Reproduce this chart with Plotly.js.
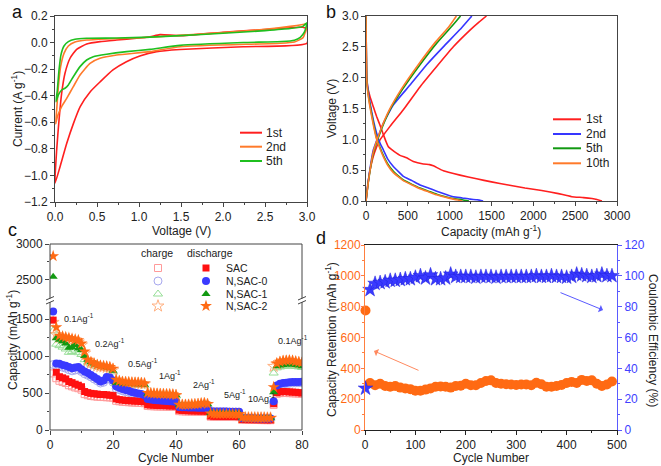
<!DOCTYPE html>
<html><head><meta charset="utf-8">
<script src="https://cdn.plot.ly/plotly-3.0.1.min.js"></script>
<style>html,body{margin:0;padding:0;background:#fff}#chart{width:661px;height:466px}</style>
</head><body><div id="chart"></div>
<script>
// ---------- Panel a: CV curves (voltage V, current A g-1) ----------
const cv1V = [3.0, 2.24, 1.49, 1.21, 1.01, 0.85, 0.69, 0.54, 0.42, 0.30, 0.22, 0.14, 0.06, 0.0,
  0.02, 0.048, 0.079, 0.119, 0.179, 0.258, 0.377, 0.536, 0.734, 0.972, 1.131, 1.25, 1.49, 2.0, 2.5, 2.8, 2.95, 3.0, 3.0];
const cv1I = [-0.005, -0.031, -0.052, -0.068, -0.101, -0.144, -0.206, -0.294, -0.370, -0.482, -0.608, -0.758, -0.934, -1.059,
  -0.808, -0.583, -0.382, -0.231, -0.118, -0.051, -0.011, 0.007, 0.019, 0.032, 0.044, 0.06, 0.052, 0.078, 0.098, 0.112, 0.115, 0.10, -0.005];
const cv2V = [3.0, 2.98, 2.95, 2.85, 2.68, 1.49, 1.131, 0.734, 0.536, 0.417, 0.298, 0.218, 0.139, 0.079, 0.028, 0.008,
  0.02, 0.04, 0.067, 0.107, 0.159, 0.238, 0.377, 0.615, 0.972, 1.49, 2.0, 2.5, 2.8, 2.95, 3.0];
const cv2I = [0.142, 0.08, 0.035, 0.005, -0.005, -0.031, -0.068, -0.093, -0.118, -0.156, -0.244, -0.332, -0.42, -0.482, -0.558, -0.613,
  -0.507, -0.332, -0.181, -0.081, -0.026, 0.004, 0.019, 0.027, 0.034, 0.055, 0.075, 0.1, 0.122, 0.136, 0.142];
const cv5V = [3.0, 2.97, 2.92, 2.85, 2.7, 2.24, 1.49, 1.131, 0.853, 0.615, 0.456, 0.377, 0.298, 0.218, 0.159, 0.119, 0.079, 0.04, 0.012,
  0.028, 0.048, 0.071, 0.107, 0.159, 0.238, 0.377, 0.734, 1.131, 1.49, 2.0, 2.5, 2.8, 2.95, 3.0];
const cv5I = [0.15, 0.08, 0.04, 0.018, 0.008, 0.0, -0.021, -0.051, -0.068, -0.088, -0.106, -0.131, -0.181, -0.257, -0.319, -0.344, -0.357, -0.394, -0.445,
  -0.357, -0.206, -0.093, -0.026, 0.007, 0.025, 0.032, 0.034, 0.041, 0.052, 0.07, 0.09, 0.106, 0.122, 0.15];

// ---------- Panel b: charge/discharge (capacity mAh g-1, voltage V) ----------
const d1Cap = [0, 3, 8, 20, 48, 90, 127, 170, 207, 240, 267, 300, 406, 486, 566, 685, 760, 805, 924, 1123, 1322, 1500, 1700, 1900, 2100, 2300, 2400, 2460, 2600, 2700, 2760, 2820];
const d1V   = [3.0, 2.5, 2.02, 1.85, 1.69, 1.52, 1.37, 1.22, 1.08, 0.96, 0.88, 0.84, 0.74, 0.70, 0.64, 0.60, 0.59, 0.57, 0.49, 0.42, 0.36, 0.31, 0.26, 0.21, 0.17, 0.12, 0.09, 0.07, 0.055, 0.04, 0.025, 0.0];
const c1Cap = [0, 20, 48, 100, 167, 287, 446, 645, 845, 1044, 1243, 1350, 1440];
const c1V   = [0.0, 0.25, 0.5, 0.78, 0.99, 1.21, 1.48, 1.85, 2.18, 2.50, 2.77, 2.9, 3.0];
const d2Cap = [0, 3, 8, 20, 48, 90, 127, 170, 207, 260, 327, 400, 446, 550, 645, 745, 845, 950, 1044, 1150, 1243, 1330, 1400];
const d2V   = [3.0, 2.5, 2.05, 1.85, 1.59, 1.3, 1.10, 0.93, 0.83, 0.68, 0.56, 0.46, 0.40, 0.33, 0.26, 0.21, 0.16, 0.11, 0.07, 0.05, 0.03, 0.02, 0.0];
const c2Cap = [0, 30, 88, 150, 207, 327, 526, 725, 924, 1123, 1200, 1265];
const c2V   = [0.0, 0.35, 0.83, 1.06, 1.26, 1.56, 1.88, 2.21, 2.5, 2.78, 2.9, 3.0];
const d5Cap = [0, 3, 8, 20, 48, 90, 127, 170, 207, 260, 327, 400, 446, 550, 645, 745, 845, 950, 1044, 1150, 1230];
const d5V   = [3.0, 2.5, 2.0, 1.8, 1.55, 1.25, 1.02, 0.86, 0.74, 0.6, 0.48, 0.39, 0.34, 0.27, 0.21, 0.16, 0.11, 0.07, 0.04, 0.02, 0.0];
const c5Cap = [0, 30, 88, 167, 287, 446, 645, 845, 1004, 1080, 1130];
const c5V   = [0.0, 0.33, 0.78, 1.1, 1.48, 1.83, 2.21, 2.56, 2.8, 2.92, 3.0];
const d10Cap = [0, 3, 8, 20, 48, 90, 127, 170, 207, 260, 327, 400, 446, 550, 645, 745, 845, 950, 1044, 1100, 1150];
const d10V   = [3.0, 2.5, 2.0, 1.78, 1.52, 1.22, 1.0, 0.84, 0.72, 0.58, 0.46, 0.38, 0.33, 0.26, 0.2, 0.15, 0.1, 0.06, 0.03, 0.015, 0.0];
const c10Cap = [0, 30, 88, 160, 280, 430, 625, 820, 975, 1040, 1080];
const c10V   = [0.0, 0.33, 0.8, 1.1, 1.48, 1.83, 2.21, 2.56, 2.8, 2.92, 3.0];

// ---------- Panel c: rate performance ----------
const cycles = [1,2,3,4,5,6,7,8,9,10,11,12,13,14,15,16,17,18,19,20,21,22,23,24,25,26,27,28,29,30,
  31,32,33,34,35,36,37,38,39,40,41,42,43,44,45,46,47,48,49,50,51,52,53,54,55,56,57,58,59,60,
  61,62,63,64,65,66,67,68,69,70,71,72,73,74,75,76,77,78,79,80];
const sacD = [1485, 780, 720, 705, 690, 655, 640, 620, 605, 585,
  520, 505, 495, 490, 485, 480, 480, 475, 470, 465,
  420, 410, 405, 400, 395, 395, 390, 390, 385, 380,
  340, 338, 335, 332, 330, 330, 328, 325, 325, 322,
  268, 265, 262, 260, 258, 258, 256, 255, 255, 252,
  188, 186, 185, 185, 184, 183, 183, 182, 182, 180,
  142, 141, 140, 140, 139, 139, 138, 138, 137, 136,
  355, 505, 515, 520, 518, 515, 512, 510, 505, 500];
const sacC = [765, 700, 665, 650, 635, 605, 590, 575, 565, 545,
  485, 470, 460, 455, 450, 448, 445, 442, 440, 435,
  395, 388, 382, 378, 375, 372, 370, 368, 365, 362,
  325, 322, 320, 318, 318, 316, 315, 314, 313, 312,
  255, 252, 250, 250, 248, 248, 247, 246, 246, 244,
  180, 179, 178, 178, 177, 177, 176, 176, 175, 175,
  137, 136, 136, 135, 135, 135, 134, 134, 133, 133,
  340, 490, 498, 502, 500, 498, 496, 494, 492, 488];
const s0D = [1600, 900, 895, 880, 870, 850, 835, 845, 850, 820,
  790, 770, 745, 715, 690, 655, 670, 715, 710, 670,
  590, 570, 555, 540, 530, 515, 505, 495, 485, 470,
  420, 412, 406, 402, 400, 396, 392, 388, 386, 382,
  312, 308, 306, 305, 305, 303, 302, 301, 300, 298,
  252, 251, 250, 250, 249, 249, 248, 248, 247, 246,
  160, 159, 158, 158, 157, 157, 156, 156, 155, 155,
  390, 600, 625, 635, 640, 645, 648, 650, 650, 652];
const s0C = [885, 870, 860, 848, 835, 815, 800, 810, 812, 790,
  760, 740, 718, 690, 665, 635, 645, 690, 685, 645,
  560, 545, 530, 518, 508, 495, 485, 476, 468, 455,
  405, 398, 393, 390, 388, 385, 382, 378, 376, 372,
  300, 297, 295, 294, 294, 292, 291, 290, 290, 288,
  245, 244, 244, 243, 243, 242, 242, 241, 241, 240,
  155, 155, 154, 154, 153, 153, 152, 152, 152, 151,
  370, 585, 610, 622, 628, 632, 636, 638, 640, 640];
const s1D = [2540, 1240, 1220, 1200, 1170, 1110, 1120, 1150, 1100, 1080,
  1000, 950, 920, 900, 885, 870, 860, 850, 840, 800,
  640, 635, 632, 630, 626, 624, 620, 618, 615, 610,
  490, 486, 483, 481, 480, 478, 476, 475, 472, 470,
  342, 338, 336, 336, 340, 342, 346, 352, 358, 350,
  232, 230, 229, 229, 228, 228, 227, 227, 226, 225,
  168, 167, 167, 166, 166, 166, 165, 165, 165, 164,
  510, 860, 872, 880, 886, 888, 885, 880, 872, 862];
const s1C = [1340, 1160, 1140, 1120, 1095, 1050, 1060, 1080, 1045, 1020,
  950, 915, 890, 872, 860, 848, 840, 832, 822, 785,
  625, 620, 618, 615, 612, 610, 607, 605, 603, 598,
  478, 475, 472, 470, 469, 467, 466, 465, 463, 461,
  332, 330, 328, 329, 332, 334, 338, 344, 348, 342,
  226, 225, 224, 224, 223, 223, 222, 222, 221, 221,
  164, 163, 163, 162, 162, 162, 161, 161, 161, 160,
  770, 840, 852, 860, 865, 866, 864, 860, 853, 845];
const s2D = [2830, 1390, 1275, 1265, 1255, 1245, 1235, 1225, 1215, 1170,
  1060, 950, 920, 900, 882, 872, 865, 860, 852, 830,
  680, 662, 652, 648, 645, 642, 640, 640, 636, 630,
  500, 496, 492, 490, 487, 485, 483, 481, 479, 472,
  342, 340, 340, 341, 345, 347, 351, 358, 362, 352,
  222, 219, 218, 217, 217, 216, 216, 215, 215, 214,
  166, 166, 165, 165, 165, 164, 164, 164, 163, 163,
  580, 900, 922, 935, 940, 942, 938, 928, 920, 912];
const s2C = [1455, 1290, 1250, 1240, 1230, 1220, 1210, 1200, 1190, 1150,
  1040, 935, 905, 885, 868, 858, 852, 846, 838, 815,
  668, 652, 643, 640, 637, 634, 632, 631, 628, 622,
  492, 488, 485, 483, 480, 478, 476, 474, 472, 466,
  336, 334, 334, 335, 339, 341, 345, 352, 356, 346,
  218, 216, 215, 214, 214, 213, 213, 212, 212, 211,
  164, 164, 163, 163, 163, 162, 162, 162, 161, 161,
  860, 890, 910, 922, 927, 929, 925, 916, 908, 900];
const seriesNames = ["SAC", "N,SAC-0", "N,SAC-1", "N,SAC-2"];
const rateLabels = ["0.1", "0.2", "0.5", "1", "2", "5", "10", "0.1"];

// ---------- Panel d: long cycling ----------
const cyclesD = [1,10,20,30,40,50,60,70,80,90,100,110,120,130,140,150,160,170,180,190,200,210,220,230,240,
  250,260,270,280,290,300,310,320,330,340,350,360,370,380,390,400,410,420,430,440,450,460,470,480,490];
const retention = [775, 305, 290, 300, 285, 280, 285, 275, 270, 265, 255, 255, 262, 270, 280, 282, 280, 275, 285, 287,
  300, 290, 290, 305, 318, 322, 305, 300, 297, 295, 292, 295, 295, 290, 307, 297, 280, 280, 285, 292,
  305, 312, 305, 325, 318, 322, 300, 285, 295, 315];
const ce = [27, 91, 95, 95.5, 96, 97, 97, 97.5, 98, 98, 99, 100, 98.5, 100.5, 98, 98, 98.5, 101, 99.5, 99.5,
  99.5, 99.5, 99, 99.5, 99.5, 99.5, 99, 99.5, 99.5, 99.5, 99.5, 99.5, 99.5, 99.5, 100, 99.5, 99.5, 100, 99.5, 99.5,
  99, 99.5, 101, 100.5, 100, 99.5, 100, 101, 100, 100];

// ---------- layout helpers ----------
const W = 661, H = 466;
const FONT = "Liberation Sans, Arial, sans-serif";
const px = x => x / W, py = y => 1 - y / H;
const FR = "#444";
function ann(text, x, y, o) {
  return Object.assign({text: text, x: px(x), y: py(y), xref: "paper", yref: "paper", showarrow: false,
    xanchor: "center", yanchor: "middle", font: {family: FONT, size: 12, color: "#222"}}, o || {});
}
function axis(o) {
  return Object.assign({showgrid: false, zeroline: false, showline: true, mirror: true, linecolor: FR, linewidth: 1,
    ticks: "outside", ticklen: 4, tickcolor: FR, tickfont: {family: FONT, size: 12, color: "#222"}, fixedrange: true}, o);
}

const red = "#ff1f1f", orange = "#ff7a2a", green = "#1fbf1f", blue = "#3636ff", green2 = "#119911";
const traces = [];
// a
[[cv1V, cv1I, red], [cv2V, cv2I, orange], [cv5V, cv5I, green]].forEach(([x, y, c]) => {
  traces.push({type: "scatter", mode: "lines", x: x, y: y, xaxis: "x", yaxis: "y", cliponaxis: false,
    line: {color: c, width: 1.6, shape: "spline", smoothing: 0.5}, showlegend: false, hoverinfo: "skip"});
});
// b
[[d1Cap, d1V, red], [c1Cap, c1V, red], [d2Cap, d2V, blue], [c2Cap, c2V, blue],
 [d5Cap, d5V, green2], [c5Cap, c5V, green2], [d10Cap, d10V, orange], [c10Cap, c10V, orange]].forEach(([x, y, c]) => {
  traces.push({type: "scatter", mode: "lines", x: x, y: y, xaxis: "x2", yaxis: "y2", cliponaxis: false,
    line: {color: c, width: 1.6, shape: "spline", smoothing: 0.4}, showlegend: false, hoverinfo: "skip"});
});
// c
const cStyles = [
  {data: sacC, sym: "square-open", size: 7, color: "#ff9a9a"},
  {data: s0C, sym: "circle-open", size: 8, color: "#a8a8ee"},
  {data: s1C, sym: "triangle-up-open", size: 8, color: "#96de96"},
  {data: s2C, sym: "star-open", size: 9, color: "#ffb080"},
  {data: sacD, sym: "square", size: 7, color: "#ff1010"},
  {data: s0D, sym: "circle", size: 8, color: "#3a3aff"},
  {data: s1D, sym: "triangle-up", size: 8, color: "#129a12"},
  {data: s2D, sym: "star", size: 9, color: "#ff6a13"}
];
["y3", "y4"].forEach(ya => {
  cStyles.forEach(s => {
    traces.push({type: "scatter", mode: "markers", x: cycles, y: s.data, xaxis: "x3", yaxis: ya, cliponaxis: true,
      marker: {symbol: s.sym, size: s.size, color: s.color, line: {color: s.color, width: s.sym.indexOf("open") > 0 ? 1 : 0}},
      showlegend: false, hoverinfo: "skip"});
  });
});
// d
traces.push({type: "scatter", mode: "markers", x: cyclesD, y: retention, xaxis: "x4", yaxis: "y5", cliponaxis: false,
  marker: {symbol: "circle", size: 10, color: "#ff6a13"}, showlegend: false, hoverinfo: "skip"});
traces.push({type: "scatter", mode: "markers", x: cyclesD, y: ce, xaxis: "x4", yaxis: "y6", cliponaxis: false,
  marker: {symbol: "star", size: 11, color: "#3a3aff", line: {color: "#2020dd", width: 0.5}}, showlegend: false, hoverinfo: "skip"});

// legend keys for panel c (on a hidden pixel-space overlay)
const legRows = [268, 281, 294, 306];
cStyles.forEach((s, i) => {
  const k = i % 4, col = i < 4 ? 158 : 206;
  traces.push({type: "scatter", mode: "markers", x: [col], y: [legRows[k]], xaxis: "x5", yaxis: "y7", cliponaxis: false,
    marker: {symbol: s.sym, size: s.size, color: s.color, line: {color: s.color, width: s.sym.indexOf("open") > 0 ? 1 : 0}},
    showlegend: false, hoverinfo: "skip"});
});

const lab = {family: FONT, size: 18, color: "#111"};
const annotations = [
  ann("a", 17, 0, {font: lab, yanchor: "top"}),
  ann("b", 331, 0, {font: lab, yanchor: "top"}),
  ann("c", 12, 230, {font: lab}),
  ann("d", 321, 238, {font: lab}),
  ann("Current (A g<sup>-1</sup>)", 17, 109, {textangle: -90}),
  ann("Voltage (V)", 181, 231),
  ann("Voltage (V)", 332, 109, {textangle: -90}),
  ann("Capacity (mAh g<sup>-1</sup>)", 491, 231),
  ann("Capacity (mAh g<sup>-1</sup>)", 12, 340, {textangle: -90}),
  ann("Cycle Number", 176, 458),
  ann("Capacity Retention (mAh g<sup>-1</sup>)", 331, 340, {textangle: -90}),
  ann("Coulombic Efficiency (%)", 653, 340, {textangle: 90}),
  ann("Cycle Number", 491, 458),
  // legends a
  ann("1st", 264, 132.7, {xanchor: "left"}), ann("2nd", 264, 146.7, {xanchor: "left"}), ann("5th", 264, 161, {xanchor: "left"}),
  // legends b
  ann("1st", 584, 119.3, {xanchor: "left"}), ann("2nd", 584, 134, {xanchor: "left"}),
  ann("5th", 584, 148.3, {xanchor: "left"}), ann("10th", 584, 163.3, {xanchor: "left"}),
  // legend c
  ann("charge", 157, 253, {font: {family: FONT, size: 10.5, color: "#222"}}),
  ann("discharge", 210, 253, {font: {family: FONT, size: 10.5, color: "#222"}})
];
seriesNames.forEach((n, i) => annotations.push(ann(n, 224, legRows[i], {xanchor: "left", font: {family: FONT, size: 10.5, color: "#222"}})));
const ratePos = [[62, 318], [93, 343], [126, 363], [157, 375], [191, 384], [222, 394], [246, 398], [276, 340]];
rateLabels.forEach((r, i) => annotations.push(ann(r + "Ag<sup>-1</sup>", ratePos[i][0], ratePos[i][1],
  {xanchor: "left", font: {family: FONT, size: 9, color: "#222"}})));
// arrows d
annotations.push({x: px(374), y: py(351), xref: "paper", yref: "paper", text: "", showarrow: true,
  ax: 46, ay: 20, arrowcolor: "#ff8a60", arrowwidth: 1, arrowhead: 1, arrowsize: 1.3});
annotations.push({x: px(603), y: py(310), xref: "paper", yref: "paper", text: "", showarrow: true,
  ax: -44, ay: -18, arrowcolor: "#5a5aff", arrowwidth: 1, arrowhead: 1, arrowsize: 1.3});

function hline(x0, x1, y, c, w) { return {type: "line", xref: "paper", yref: "paper", x0: px(x0), x1: px(x1), y0: py(y), y1: py(y), line: {color: c, width: w}}; }
function seg(x0, y0, x1, y1, c, w) { return {type: "line", xref: "paper", yref: "paper", x0: px(x0), x1: px(x1), y0: py(y0), y1: py(y1), line: {color: c, width: w}}; }
const shapes = [
  hline(240, 262, 132.7, red, 2), hline(240, 262, 146.7, orange, 2), hline(240, 262, 161, green, 2),
  hline(553, 581, 119.3, red, 2), hline(553, 581, 134, blue, 2), hline(553, 581, 148.3, green2, 2), hline(553, 581, 163.3, orange, 2),
  {type: "rect", xref: "paper", yref: "paper", x0: px(50), x1: px(302), y0: py(430), y1: py(244), line: {color: FR, width: 1}, fillcolor: "rgba(0,0,0,0)", layer: "above"},
  {type: "rect", xref: "paper", yref: "paper", x0: px(47), x1: px(53), y0: py(302), y1: py(298.5), line: {width: 0}, fillcolor: "#fff", layer: "above"},
  {type: "rect", xref: "paper", yref: "paper", x0: px(299), x1: px(305), y0: py(302), y1: py(298.5), line: {width: 0}, fillcolor: "#fff", layer: "above"},
  seg(46, 300, 54, 296.5, FR, 1), seg(46, 304, 54, 300.5, FR, 1),
  seg(298, 300, 306, 296.5, FR, 1), seg(298, 304, 306, 300.5, FR, 1)
];

const orangeAx = "#ff7f3f", blueAx = "#5a5aff";
const layout = {
  width: W, height: H, margin: {l: 0, r: 0, t: 0, b: 0}, paper_bgcolor: "#fff", plot_bgcolor: "rgba(0,0,0,0)",
  showlegend: false, font: {family: FONT, size: 12, color: "#222"},
  xaxis: axis({domain: [px(55), px(307)], anchor: "y", range: [0, 3], dtick: 0.5, tickformat: ".1f",
    minor: {ticks: "outside", ticklen: 2, dtick: 0.25, tickcolor: FR}}),
  yaxis: axis({domain: [py(202), py(16)], anchor: "x", range: [-1.2, 0.2], dtick: 0.2, tickformat: ".1f",
    minor: {ticks: "outside", ticklen: 2, dtick: 0.1, tickcolor: FR}}),
  xaxis2: axis({domain: [px(366), px(617)], anchor: "y2", range: [0, 3000], dtick: 500,
    minor: {ticks: "outside", ticklen: 2, dtick: 250, tickcolor: FR}}),
  yaxis2: axis({domain: [py(201), py(16)], anchor: "x2", range: [0, 3], dtick: 0.5, tickformat: ".1f",
    minor: {ticks: "outside", ticklen: 2, dtick: 0.25, tickcolor: FR}}),
  xaxis3: axis({domain: [px(50), px(302)], anchor: "y3", range: [0, 80], dtick: 20, showline: false, mirror: false,
    minor: {ticks: "outside", ticklen: 2, dtick: 10, tickcolor: FR}}),
  yaxis3: axis({domain: [py(430), py(300)], anchor: "x3", range: [0, 1757], tickvals: [0, 500, 1000, 1500], showline: false, mirror: false,
    minor: {ticks: "outside", ticklen: 2, tickvals: [250, 750, 1250], tickcolor: FR}}),
  yaxis4: axis({domain: [py(300), py(244)], anchor: "x3", range: [2216, 3000], tickvals: [2500, 3000], showline: false, mirror: false,
    minor: {ticks: "outside", ticklen: 2, tickvals: [2750], tickcolor: FR}}),
  xaxis4: axis({domain: [px(365), px(617)], anchor: "y5", range: [0, 500], dtick: 100, linecolor: "#222", tickcolor: "#222",
    minor: {ticks: "outside", ticklen: 2, dtick: 50, tickcolor: "#222"}}),
  yaxis5: axis({domain: [py(430), py(245)], anchor: "x4", range: [0, 1200], dtick: 200, mirror: false, linecolor: orangeAx, tickcolor: orangeAx,
    ticklen: 3, ticklabelstandoff: -2,
    tickfont: {family: FONT, size: 12, color: "#ff6a13"}, minor: {ticks: "outside", ticklen: 2, dtick: 100, tickcolor: orangeAx}}),
  yaxis6: axis({domain: [py(430), py(245)], anchor: "x4", overlaying: "y5", side: "right", range: [0, 120], dtick: 20, mirror: false,
    linecolor: blueAx, tickcolor: blueAx, tickfont: {family: FONT, size: 12, color: "#4040ff"},
    minor: {ticks: "outside", ticklen: 2, dtick: 10, tickcolor: blueAx}}),
  xaxis5: {domain: [0, 1], anchor: "y7", range: [0, W], visible: false, fixedrange: true},
  yaxis7: {domain: [0, 1], anchor: "x5", range: [H, 0], visible: false, fixedrange: true},
  annotations: annotations, shapes: shapes
};
Plotly.newPlot("chart", traces, layout, {displayModeBar: false, staticPlot: true});
</script></body></html>
